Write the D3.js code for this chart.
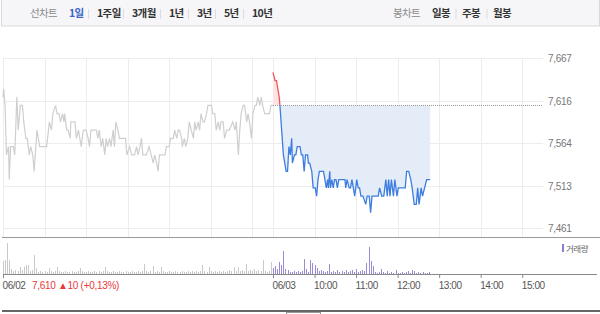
<!DOCTYPE html>
<html><head><meta charset="utf-8">
<script src="https://cdn.jsdelivr.net/npm/d3@7"></script>
<style>
html,body{margin:0;padding:0;background:#fff;}
svg{display:block;font-family:Arial,"Liberation Sans","Noto Sans CJK KR",sans-serif;}
</style></head><body>
<svg id="c" width="600" height="314"></svg>
<script>
// ---------- data ----------
const prevTimes = ["09:00","09:01","09:03","09:05","09:08","09:09","09:11","09:15","09:17","09:20","09:22","09:25","09:28","09:30","09:33","09:35","09:38","09:40","09:43","09:45","09:49","09:53","09:58","10:03","10:07","10:10","10:12","10:16","10:18","10:21","10:23","10:26","10:28","10:29","10:32","10:34","10:37","10:38","10:44","10:46","10:49","10:51","10:53","10:56","11:00","11:03","11:05","11:07","11:15","11:17","11:19","11:22","11:24","11:27","11:29","11:31","11:34","11:36","11:39","11:41","11:43","11:46","11:48","11:53","11:57","11:59","12:03","12:06","12:10","12:13","12:15","12:18","12:20","12:22","12:27","12:31","12:34","12:37","12:39","12:42","12:44","12:46","12:54","12:56","13:00","13:02","13:06","13:08","13:11","13:13","13:15","13:18","13:19","13:22","13:24","13:27","13:29","13:32","13:35","13:37","13:39","13:42","13:44","13:46","13:49","13:51","13:54","13:56","13:58","14:01","14:03","14:06","14:08","14:11","14:13","14:15","14:18","14:20","14:23","14:27","14:32","14:35","14:37","14:40","14:42","14:44","14:47","14:49","14:52","14:54","14:56","14:59","15:01","15:04","15:06","15:08","15:11","15:13","15:15","15:18","15:21","15:25","15:27","15:30"];
const prevPrices = [7620,7630,7610,7550,7560,7520,7560,7560,7550,7620,7580,7610,7610,7590,7570,7570,7550,7560,7550,7530,7580,7560,7560,7560,7590,7580,7600,7610,7600,7600,7590,7600,7590,7600,7580,7580,7570,7590,7590,7570,7580,7570,7560,7580,7580,7570,7560,7580,7580,7570,7580,7560,7570,7550,7570,7560,7570,7560,7580,7560,7590,7580,7570,7570,7570,7550,7560,7550,7550,7560,7550,7560,7570,7550,7550,7560,7550,7540,7550,7540,7530,7550,7550,7560,7560,7570,7570,7580,7570,7580,7580,7570,7560,7570,7560,7570,7590,7580,7570,7590,7580,7590,7580,7600,7590,7590,7600,7610,7610,7610,7600,7600,7580,7590,7580,7590,7590,7570,7580,7580,7590,7580,7590,7550,7580,7600,7610,7610,7590,7600,7590,7570,7600,7610,7610,7620,7610,7620,7610,7600,7600,7600,7610,7610];
const curTimes = ["09:00","09:03","09:05","09:07","09:09","09:10","09:15","09:19","09:21","09:23","09:25","09:27","09:28","09:31","09:33","09:35","09:39","09:41","09:43","09:45","09:47","09:50","09:51","09:53","09:56","09:58","10:01","10:03","10:05","10:07","10:13","10:15","10:17","10:19","10:20","10:22","10:23","10:25","10:27","10:29","10:31","10:33","10:35","10:44","10:45","10:47","10:50","10:52","10:54","10:56","10:58","11:01","11:03","11:05","11:07","11:10","11:14","11:16","11:19","11:21","11:23","11:27","11:32","11:34","11:37","11:40","11:43","11:45","11:47","11:49","11:51","11:54","11:56","11:59","12:01","12:11","12:13","12:16","12:19","12:21","12:24","12:27","12:29","12:31","12:34","12:36","12:39","12:42","12:47"];
const curPrices = [7650,7640,7640,7630,7620,7610,7550,7530,7530,7560,7550,7570,7540,7550,7550,7560,7560,7550,7550,7530,7550,7550,7540,7540,7530,7510,7510,7500,7520,7530,7530,7520,7510,7520,7510,7530,7510,7520,7510,7520,7520,7510,7520,7520,7510,7520,7510,7510,7520,7510,7500,7520,7510,7510,7500,7500,7490,7500,7500,7480,7500,7500,7500,7510,7500,7500,7520,7500,7520,7500,7520,7500,7520,7500,7510,7510,7530,7530,7520,7510,7490,7490,7510,7490,7510,7500,7510,7520,7520];
const prevClose = 7610;
// volume (thousand shares), one bar per 3 minutes
const prevVolumes = [13,14,31,14,5,3,4,3,7,4,7,9,9,3,4,19,6,2,3,2,3,2,6,3,2,3,7,3,2,2,3,2,2,3,2,2,3,6,3,2,2,3,2,2,3,2,3,2,3,7,3,2,2,3,2,2,3,2,2,3,2,2,3,2,2,3,2,3,10,3,2,3,8,2,3,2,7,3,2,2,3,2,2,3,2,2,3,2,2,3,2,3,2,3,2,3,9,3,2,7,3,2,3,2,3,2,3,2,3,4,3,7,3,7,3,4,3,10,3,4,3,5,3,4,3,14,3,2,3,12];
const curVolumes = [6,8,5,12,9,23,5,4,2,2,3,2,3,2,3,15,5,2,14,11,9,6,3,4,3,2,3,10,2,3,2,4,2,3,2,4,2,3,4,2,5,2,3,4,3,11,27,13,8,2,1,2,5,2,1,3,1,2,1,4,1,1,2,1,2,3,1,4,3,1,2,1,2,1,1,2];
const yTickValues = [7461,7512.5,7564,7615.5,7667];
const yTickLabels = ["7,461","7,513","7,564","7,616","7,667"];
const hourTicks = ["10:00","11:00","12:00","13:00","14:00","15:00"];
const dayLabels = ["06/02","06/03"];
const lineTabs = ["1일","1주일","3개월","1년","3년","5년","10년"];
const candleTabs = ["일봉","주봉","월봉"];
const summaryText = "7,610 ▲10 (+0,13%)";

// ---------- helpers ----------
const toMin = t => { const [h,m] = t.split(":").map(Number); return (h-9)*60 + m; };
const SESSION = 390;
const prevData = prevTimes.map((t,i)=>({m: toMin(t), v: prevPrices[i]}));
const curData = curTimes.map((t,i)=>({m: SESSION + toMin(t), v: curPrices[i]}));

const svg = d3.select("#c");
const x = d3.scaleLinear().domain([0, 2*SESSION]).range([3, 543]);
const y = d3.scaleLinear().domain([7461, 7667]).range([228.3, 58.3]);
const yv = d3.scaleLinear().domain([0, 35]).range([274, 239]);

// ---------- header ----------
svg.append("rect").attr("x",1.5).attr("y",-1).attr("width",598).attr("height",27)
  .attr("fill","#f6f6f8").attr("stroke","#d9d9dc");
const hdr = svg.append("g").attr("font-family","'Noto Sans CJK KR',sans-serif").attr("font-size",10.5).attr("letter-spacing","-0.6");
hdr.append("text").attr("x",30).attr("y",17).attr("fill","#8a8a8a").text("선차트");
const tabX = [69,97,132,169,197,224,252];
lineTabs.forEach((t,i)=>{
  hdr.append("text").attr("x",tabX[i]).attr("y",17).attr("font-weight","bold")
    .attr("fill", i===0 ? "#3a64c8" : "#333").text(t);
  if(i>0) hdr.append("line").attr("x1",tabX[i]-8.5).attr("x2",tabX[i]-8.5).attr("y1",9).attr("y2",19).attr("stroke","#dcdcdc");
});
hdr.append("text").attr("x",393).attr("y",17).attr("fill","#8a8a8a").text("봉차트");
const cX = [432,462,493];
candleTabs.forEach((t,i)=>{
  hdr.append("text").attr("x",cX[i]).attr("y",17).attr("font-weight","bold").attr("fill","#333").text(t);
  if(i>0) hdr.append("line").attr("x1",cX[i]-6).attr("x2",cX[i]-6).attr("y1",9).attr("y2",19).attr("stroke","#dcdcdc");
});

// ---------- price grid ----------
const grid = svg.append("g");
yTickValues.forEach(v=>{
  grid.append("line").attr("x1",3).attr("x2",543).attr("y1",Math.round(y(v))+0.5).attr("y2",Math.round(y(v))+0.5)
    .attr("stroke","#ededed");
});
const vLines = [0,60,120,180,240,300,360,390,450,510,570,630,690,750];
vLines.forEach(m=>{
  grid.append("line").attr("x1",Math.round(x(m))+0.5).attr("x2",Math.round(x(m))+0.5).attr("y1",58).attr("y2",237)
    .attr("stroke","#ededed");
});
// y labels
const yAxis = d3.axisRight(y).tickValues(yTickValues).tickSize(0).tickPadding(0)
  .tickFormat((d,i)=>yTickLabels[i]);
const yg = svg.append("g").attr("transform","translate(548,0)").call(yAxis);
yg.select(".domain").remove();
yg.selectAll("text").attr("font-size",10).attr("fill","#777").attr("font-family","Arial,'Liberation Sans',sans-serif").attr("letter-spacing","-0.3");

// ---------- price lines ----------
const line = d3.line().x(d=>x(d.m)).y(d=>y(d.v));
svg.append("path").datum(prevData).attr("d",line).attr("fill","none").attr("stroke","#cfcfcf").attr("stroke-width",1.2);

const base = y(prevClose);
const defs = svg.append("defs");
defs.append("clipPath").attr("id","above").append("rect").attr("x",0).attr("y",0).attr("width",600).attr("height",base);
defs.append("clipPath").attr("id","below").append("rect").attr("x",0).attr("y",base).attr("width",600).attr("height",314-base);
const area = d3.area().x(d=>x(d.m)).y0(base).y1(d=>y(d.v));
svg.append("path").datum(curData).attr("d",area).attr("fill","#fde4e4").attr("clip-path","url(#above)");
svg.append("path").datum(curData).attr("d",area).attr("fill","#e4ecf8").attr("clip-path","url(#below)");
// previous-close reference line
svg.append("line").attr("x1",x(SESSION)).attr("x2",543).attr("y1",Math.round(base)+0.5).attr("y2",Math.round(base)+0.5)
  .attr("stroke","#999").attr("stroke-dasharray","1,1");
svg.append("path").datum(curData).attr("d",line).attr("fill","none").attr("stroke","#f25555").attr("stroke-width",1.3).attr("clip-path","url(#above)");
svg.append("path").datum(curData).attr("d",line).attr("fill","none").attr("stroke","#3d7de0").attr("stroke-width",1.3).attr("clip-path","url(#below)");

// panel separator
svg.append("line").attr("x1",2).attr("x2",600).attr("y1",237.5).attr("y2",237.5).attr("stroke","#9a9a9a");

// ---------- volume ----------
const vg = svg.append("g");
vg.selectAll("rect.p").data(prevVolumes).join("rect").attr("class","p")
  .attr("x",(d,i)=>Math.round(x(i*3))).attr("width",1)
  .attr("y",d=>yv(d)).attr("height",d=>yv(0)-yv(d)).attr("fill","#c9c9c9");
vg.selectAll("rect.c").data(curVolumes).join("rect").attr("class","c")
  .attr("x",(d,i)=>Math.round(x(SESSION+i*3))).attr("width",1)
  .attr("y",d=>yv(d)).attr("height",d=>yv(0)-yv(d)).attr("fill","#9d8ad6");
// legend
svg.append("rect").attr("x",562).attr("y",244).attr("width",2).attr("height",8).attr("fill","#8d7cc9");
svg.append("text").attr("x",566).attr("y",251.5).attr("font-size",8.5).attr("fill","#666")
  .attr("font-family","'Noto Sans CJK KR',sans-serif").attr("letter-spacing","-0.5").text("거래량");

// ---------- time axis ----------
const tickMins = [0, SESSION].concat(hourTicks.map(t=>SESSION+toMin(t)));
const tickLbls = dayLabels.concat(hourTicks);
const xAxis = d3.axisBottom(x).tickValues(tickMins).tickSize(4).tickPadding(4)
  .tickFormat((d,i)=>tickLbls[i]);
const xg = svg.append("g").attr("transform","translate(0,274)").call(xAxis);
xg.select(".domain").remove();
xg.append("line").attr("x1",3).attr("x2",597).attr("y1",0.5).attr("y2",0.5).attr("stroke","#888");
xg.selectAll(".tick line").attr("stroke","#888");
xg.selectAll(".tick text").attr("text-anchor","start").attr("dx",-1).attr("font-size",10)
  .attr("fill","#555").attr("font-family","Arial,'Liberation Sans',sans-serif").attr("letter-spacing","-0.4");
svg.append("text").attr("x",32).attr("y",288.5).attr("font-size",10).attr("fill","#e8393b")
  .attr("font-family","Arial,'Liberation Sans','Noto Sans CJK KR',sans-serif").attr("letter-spacing","-0.3").text(summaryText);

// ---------- bottom strip ----------
svg.append("rect").attr("x",2).attr("y",310).attr("width",598).attr("height",2).attr("fill","#666");
svg.append("rect").attr("x",286.5).attr("y",312.5).attr("width",34).attr("height",4).attr("fill","#fff").attr("stroke","#999");
</script>
</body></html>
